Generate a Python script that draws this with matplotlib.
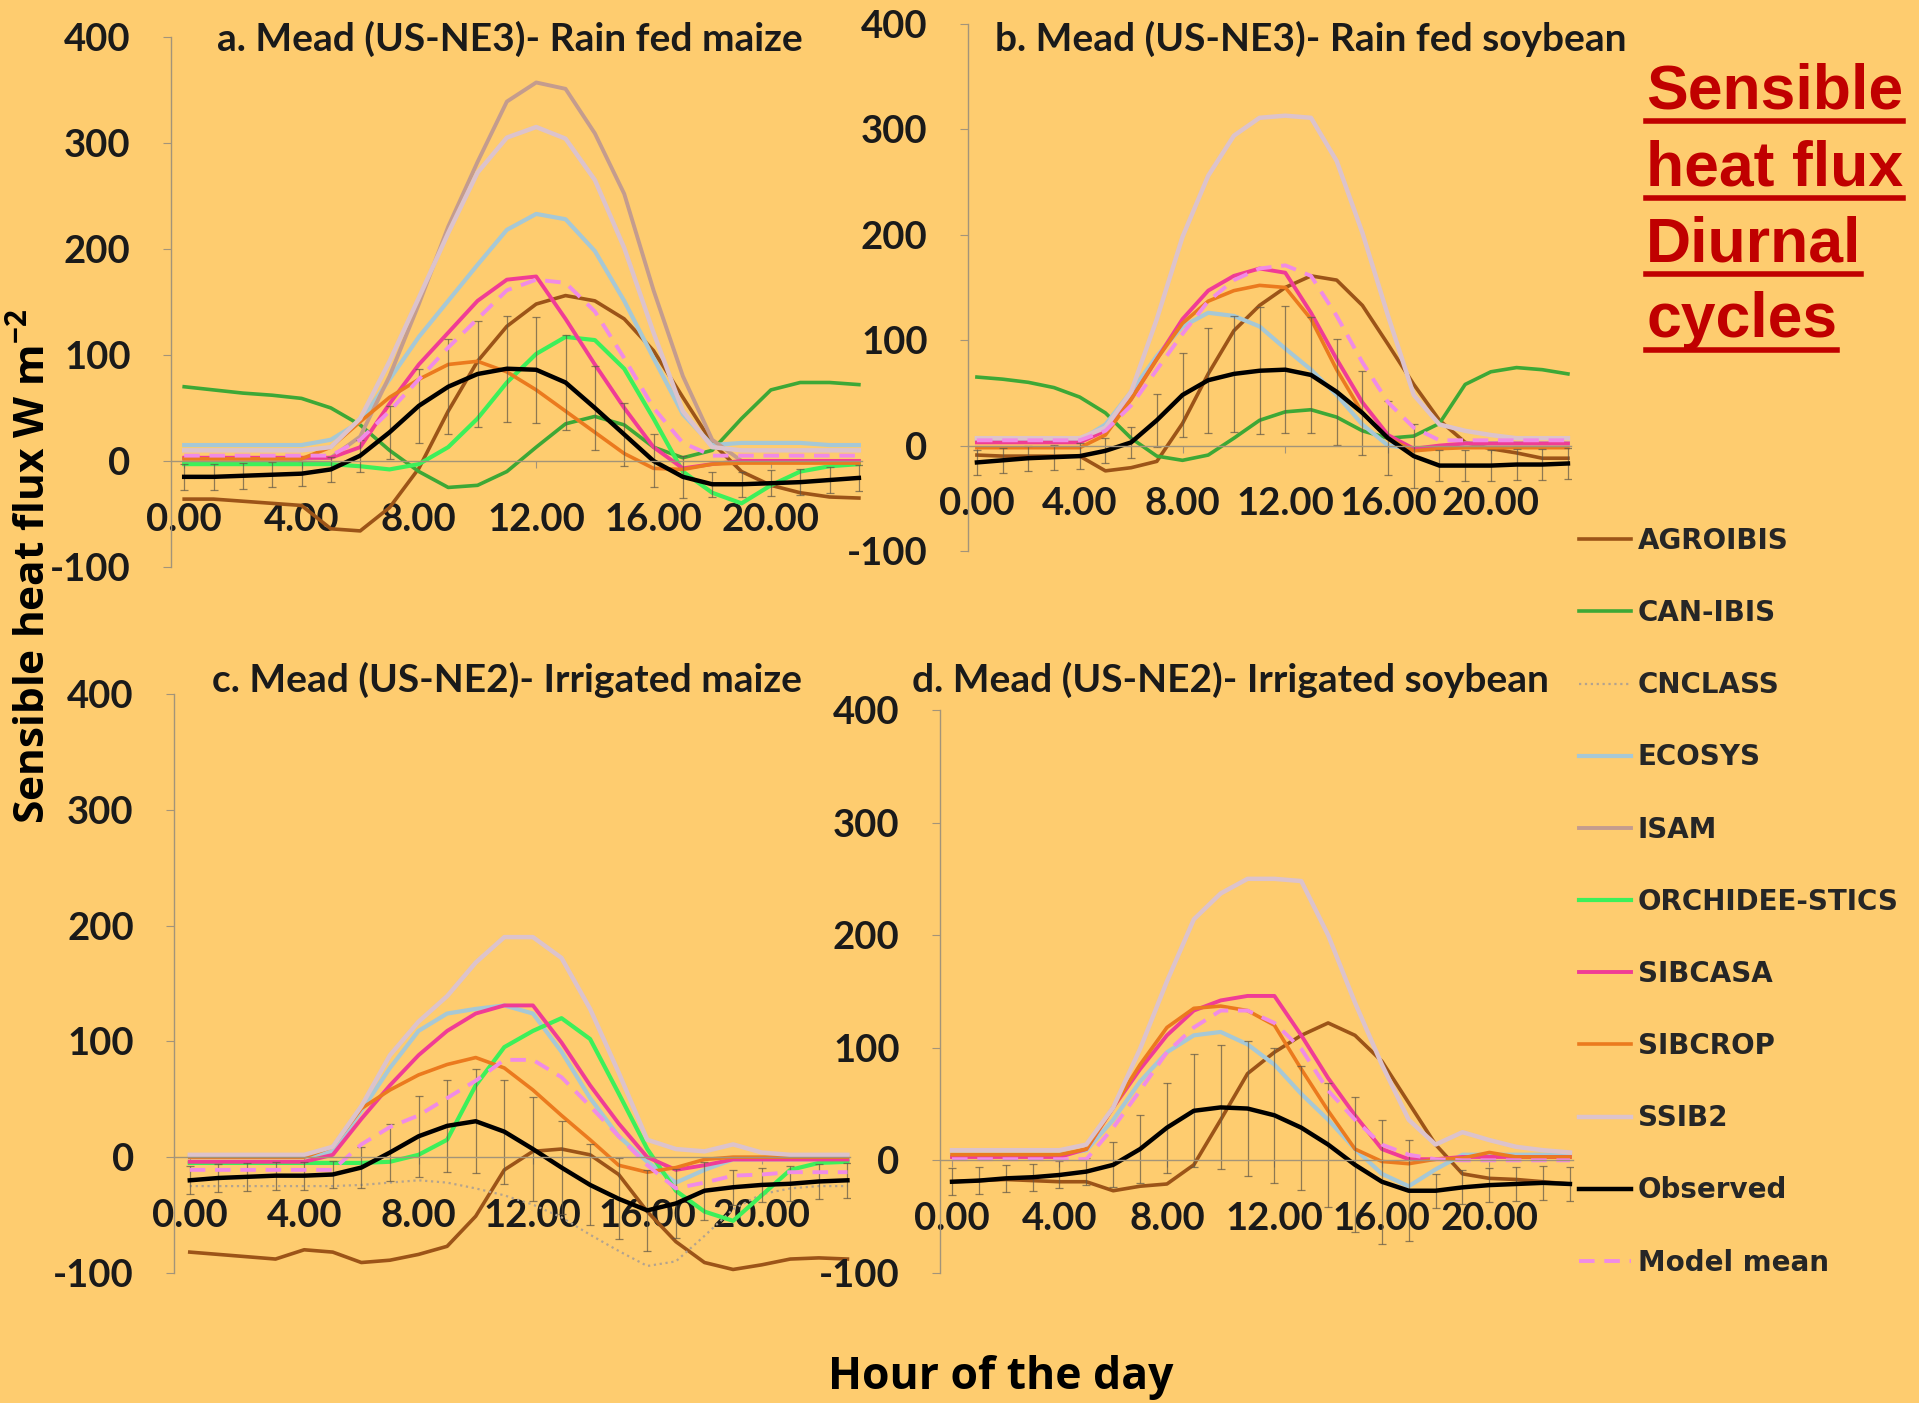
import numpy as np
import matplotlib
matplotlib.use('Agg')
import matplotlib.pyplot as plt
from matplotlib.lines import Line2D

plt.rcParams['font.family'] = ['Lato', 'DejaVu Sans']
plt.rcParams['mathtext.fontset'] = 'custom'
plt.rcParams['mathtext.bf'] = 'Open Sans:bold'
plt.rcParams['mathtext.rm'] = 'Open Sans:bold'

hours = np.arange(24)
hour_ticks = [0, 4, 8, 12, 16, 20]
hour_labels = ['0.00', '4.00', '8.00', '12.00', '16.00', '20.00']
flux_ticks = [-100, 0, 100, 200, 300, 400]

models = ['AGROIBIS', 'CAN-IBIS', 'CNCLASS', 'ECOSYS', 'ISAM', 'ORCHIDEE-STICS',
          'SIBCASA', 'SIBCROP', 'SSIB2', 'Observed', 'Model mean']

# a. Mead (US-NE3) rain fed maize
a_agroibis = [-36, -36, -38, -40, -42, -64, -66, -44, -7, 47, 94, 127, 148, 156, 151, 134, 104, 60, 17, -10, -23, -30, -34, -35]
a_canibis = [70, 67, 64, 62, 59, 50, 34, 10, -10, -25, -23, -10, 13, 35, 42, 34, 13, 3, 10, 40, 67, 74, 74, 72]
a_ecosys = [15, 15, 15, 15, 15, 20, 37, 77, 117, 151, 185, 218, 233, 228, 198, 151, 97, 44, 15, 17, 17, 17, 15, 15]
a_isam = [2, 2, 2, 2, 2, 3, 23, 80, 148, 221, 282, 339, 357, 351, 309, 252, 161, 80, 20, 0, 0, 0, 0, 0]
a_orchidee = [-3, -3, -3, -3, -3, -3, -5, -8, -3, 13, 40, 74, 101, 117, 114, 87, 40, -10, -30, -40, -23, -10, -5, -3]
a_sibcasa = [3, 3, 3, 3, 3, 3, 13, 54, 91, 121, 151, 171, 174, 134, 91, 50, 13, -7, -3, 0, 0, 0, 0, 0]
a_sibcrop = [2, 2, 2, 2, 2, 13, 37, 60, 77, 91, 94, 84, 67, 47, 27, 7, -7, -8, -3, -2, -2, -2, -2, -2]
a_ssib2 = [10, 10, 10, 10, 10, 13, 40, 94, 154, 215, 272, 305, 315, 304, 265, 201, 121, 47, 13, 10, 10, 10, 10, 10]
a_obs = [-15, -15, -14, -13, -12, -8, 5, 27, 52, 70, 82, 87, 86, 74, 50, 25, 0, -15, -22, -22, -21, -20, -18, -16]
a_obs_err = [12, 12, 12, 12, 12, 12, 15, 25, 35, 45, 50, 50, 50, 45, 40, 30, 25, 20, 12, 12, 12, 12, 12, 12]
a_mean = [5, 5, 5, 5, 5, 5, 20, 47, 77, 107, 134, 161, 171, 168, 141, 97, 50, 17, 5, 5, 5, 5, 5, 5]

# b. Mead (US-NE3) rain fed soybean
b_agroibis = [-9, -10, -10, -10, -10, -24, -21, -15, 21, 68, 109, 133, 150, 161, 157, 133, 96, 58, 24, 3, -3, -7, -12, -12]
b_canibis = [65, 63, 60, 55, 46, 31, 7, -10, -14, -9, 7, 24, 32, 34, 27, 14, 7, 9, 21, 58, 70, 74, 72, 68]
b_ecosys = [5, 5, 5, 5, 5, 20, 51, 85, 113, 126, 123, 113, 92, 72, 48, 20, 0, -3, -2, 2, 2, 2, 2, 2]
b_sibcasa = [3, 3, 3, 3, 3, 14, 44, 82, 120, 147, 161, 168, 164, 126, 82, 41, 10, -3, 0, 2, 2, 2, 2, 2]
b_sibcrop = [-2, -2, -2, -2, -2, 10, 44, 82, 116, 137, 147, 152, 150, 120, 72, 31, 7, -5, -3, -2, -2, -2, -2, -2]
b_ssib2 = [7, 7, 7, 7, 7, 17, 51, 120, 198, 256, 294, 311, 313, 311, 270, 202, 123, 48, 20, 14, 10, 7, 7, 7]
b_obs = [-16, -14, -12, -11, -10, -5, 3, 24, 48, 62, 68, 71, 72, 67, 51, 31, 7, -10, -19, -19, -19, -18, -18, -17]
b_obs_err = [12, 12, 12, 12, 12, 12, 15, 25, 40, 50, 55, 60, 60, 55, 50, 40, 35, 30, 15, 15, 15, 15, 15, 15]
b_mean = [5, 5, 5, 5, 5, 14, 38, 72, 106, 137, 157, 168, 171, 161, 123, 79, 41, 17, 5, 5, 5, 5, 5, 5]

# c. Mead (US-NE2) irrigated maize
c_agroibis = [-82, -84, -86, -88, -80, -82, -91, -89, -84, -77, -51, -11, 5, 7, 2, -15, -47, -73, -91, -97, -93, -88, -87, -88]
c_cnclass = [-25, -25, -25, -25, -25, -25, -24, -22, -20, -22, -27, -33, -41, -52, -67, -81, -94, -90, -68, -45, -32, -27, -25, -25]
c_ecosys = [0, 0, 0, 0, 0, 5, 40, 77, 109, 124, 128, 131, 124, 91, 51, 18, -4, -22, -11, -2, -2, -2, -2, -2]
c_orchidee = [-5, -5, -5, -5, -5, -5, -5, -4, 2, 15, 62, 95, 109, 120, 102, 55, 7, -29, -47, -55, -33, -11, -5, -4]
c_sibcasa = [-4, -4, -4, -4, -4, 2, 33, 62, 88, 109, 124, 131, 131, 99, 62, 29, 0, -11, -7, -2, -2, -2, -2, -2]
c_sibcrop = [0, 0, 0, 0, 0, 9, 42, 58, 71, 80, 86, 77, 58, 36, 15, -7, -13, -9, -2, 0, 0, 0, 0, 0]
c_ssib2 = [2, 2, 2, 2, 2, 9, 44, 88, 117, 139, 168, 190, 190, 172, 128, 73, 15, 7, 5, 11, 4, 2, 2, 2]
c_obs = [-20, -18, -17, -16, -16, -15, -9, 4, 18, 27, 31, 22, 7, -9, -24, -36, -46, -40, -29, -26, -24, -23, -21, -20]
c_obs_err = [12, 12, 12, 12, 12, 12, 18, 25, 35, 40, 45, 45, 45, 40, 35, 35, 35, 30, 25, 15, 15, 15, 15, 15]
c_mean = [-11, -11, -11, -11, -11, -11, 11, 26, 36, 51, 66, 84, 84, 69, 44, 18, -7, -27, -22, -16, -15, -13, -13, -13]

# d. Mead (US-NE2) irrigated soybean
d_agroibis = [-19, -18, -17, -18, -19, -19, -27, -23, -21, -4, 36, 77, 96, 111, 122, 111, 88, 51, 14, -12, -16, -17, -19, -21]
d_ecosys = [5, 5, 5, 5, 5, 9, 36, 70, 96, 111, 114, 103, 85, 59, 36, 10, -12, -23, -8, 5, 5, 5, 5, 5]
d_sibcasa = [3, 3, 3, 3, 3, 10, 47, 81, 111, 133, 142, 146, 146, 111, 73, 40, 10, 1, 1, 3, 3, 3, 3, 3]
d_sibcrop = [5, 5, 5, 5, 5, 10, 47, 85, 118, 135, 137, 133, 120, 81, 44, 10, -1, -3, 1, 2, 7, 3, 3, 3]
d_ssib2 = [9, 9, 9, 9, 9, 14, 47, 99, 159, 214, 237, 250, 250, 248, 200, 140, 85, 36, 14, 25, 18, 12, 9, 7]
d_obs = [-19, -18, -16, -15, -13, -10, -4, 10, 29, 44, 47, 46, 40, 29, 14, -4, -19, -27, -27, -24, -22, -21, -20, -21]
d_obs_err = [12, 12, 12, 12, 12, 12, 20, 30, 40, 50, 55, 60, 60, 55, 55, 60, 55, 45, 15, 15, 15, 15, 15, 15]
d_mean = [1, 1, 1, 1, 1, 1, 29, 62, 96, 118, 133, 133, 122, 99, 62, 36, 14, 5, 1, 0, 0, 0, 0, 0]

titles = ['a. Mead (US-NE3)- Rain fed maize', 'b. Mead (US-NE3)- Rain fed soybean',
          'c. Mead (US-NE2)- Irrigated maize', 'd. Mead (US-NE2)- Irrigated soybean']

panels = [
    {'AGROIBIS': a_agroibis, 'CAN-IBIS': a_canibis, 'ECOSYS': a_ecosys, 'ISAM': a_isam,
     'ORCHIDEE-STICS': a_orchidee, 'SIBCASA': a_sibcasa, 'SIBCROP': a_sibcrop, 'SSIB2': a_ssib2,
     'Observed': a_obs, 'err': a_obs_err, 'Model mean': a_mean},
    {'AGROIBIS': b_agroibis, 'CAN-IBIS': b_canibis, 'ECOSYS': b_ecosys, 'SIBCASA': b_sibcasa,
     'SIBCROP': b_sibcrop, 'SSIB2': b_ssib2, 'Observed': b_obs, 'err': b_obs_err, 'Model mean': b_mean},
    {'AGROIBIS': c_agroibis, 'CNCLASS': c_cnclass, 'ECOSYS': c_ecosys, 'ORCHIDEE-STICS': c_orchidee,
     'SIBCASA': c_sibcasa, 'SIBCROP': c_sibcrop, 'SSIB2': c_ssib2, 'Observed': c_obs, 'err': c_obs_err,
     'Model mean': c_mean},
    {'AGROIBIS': d_agroibis, 'ECOSYS': d_ecosys, 'SIBCASA': d_sibcasa, 'SIBCROP': d_sibcrop,
     'SSIB2': d_ssib2, 'Observed': d_obs, 'err': d_obs_err, 'Model mean': d_mean},
]

styles = {
    'AGROIBIS': dict(color='#9C5418', lw=2.6),
    'CAN-IBIS': dict(color='#3DA836', lw=2.6),
    'CNCLASS': dict(color='#B3A38F', lw=1.6, ls=':'),
    'ECOSYS': dict(color='#A6C8D6', lw=3.0),
    'ISAM': dict(color='#C49C8E', lw=2.8),
    'ORCHIDEE-STICS': dict(color='#3CF05A', lw=3.0),
    'SIBCASA': dict(color='#F03C96', lw=2.8),
    'SIBCROP': dict(color='#EB7A1E', lw=2.6),
    'SSIB2': dict(color='#DCC3CC', lw=3.2),
    'Observed': dict(color='black', lw=3.2),
    'Model mean': dict(color='#F08BE6', lw=2.8, ls=(0, (4, 2.5))),
}

bg = '#FECC6F'
axis_col = '#A39479'
fig = plt.figure(figsize=(19.19, 14.03), dpi=100, facecolor=bg)

boxes = [[0.0891, 0.5959, 0.360, 0.3778], [0.5044, 0.6073, 0.314, 0.3756],
         [0.0907, 0.0927, 0.3524, 0.4127], [0.4898, 0.0927, 0.3297, 0.4013]]
xlefts = [-0.45, -0.35, -0.55, -0.45]
title_pos = [(510, 39), (1311, 39), (507, 680), (1230, 680)]

for i, data in enumerate(panels):
    ax = fig.add_axes(boxes[i])
    ax.set_facecolor('none')
    for m in models[:-2]:
        if m in data:
            ax.plot(hours, data[m], **styles[m])
    ax.errorbar(hours, data['Observed'], yerr=data['err'], fmt='none', ecolor='#5f5646',
                elinewidth=0.9, capsize=3, capthick=0.9, alpha=0.7)
    ax.plot(hours, data['Observed'], **styles['Observed'])
    ax.plot(hours, data['Model mean'], **styles['Model mean'])

    ax.set_xlim(xlefts[i], 23.1)
    ax.set_ylim(-100, 400)
    ax.spines['top'].set_visible(False)
    ax.spines['right'].set_visible(False)
    ax.spines['bottom'].set_position(('data', 0))
    for s in ['left', 'bottom']:
        ax.spines[s].set_color(axis_col)
        ax.spines[s].set_linewidth(1.0)
    ax.set_xticks(hour_ticks)
    ax.set_xticklabels(hour_labels)
    ax.set_yticks(flux_ticks)
    ax.set_yticklabels([str(v) for v in flux_ticks])
    ax.tick_params(axis='x', length=5, color=axis_col, pad=25, labelsize=27.5)
    ax.tick_params(axis='y', length=6, color=axis_col, pad=23, labelsize=27.5)
    for lab in ax.get_xticklabels() + ax.get_yticklabels():
        lab.set_fontweight('bold')
        lab.set_color('#1a1a1a')
    tx, ty = title_pos[i]
    fig.text(tx / 1919, 1 - ty / 1403, titles[i], ha='center', va='center',
             fontsize=28, fontweight='bold', color='#1a1a1a')

fig.text(33 / 1919, 1 - 566 / 1403, r'Sensible heat flux W m$^{\mathbf{-2}}$', rotation=90,
         ha='center', va='center', fontsize=30.5, fontweight='bold', family='Open Sans', color='black')
fig.text(1001 / 1919, 1 - 1377 / 1403, 'Hour of the day', ha='center', va='center',
         fontsize=32, fontweight='bold', family='Open Sans', color='black')

handles = [Line2D([], [], **styles[m]) for m in models]
leg = fig.legend(handles, models, loc='upper left', bbox_to_anchor=(1579 / 1919, 1 - 527 / 1403),
                 frameon=False, borderpad=0, borderaxespad=0, handlelength=1.86,
                 handletextpad=0.25, labelspacing=1.59,
                 prop={'family': 'DejaVu Sans', 'weight': 'bold', 'size': 20})
for t in leg.get_texts():
    t.set_color('#262626')

red = '#C00000'
red_lines = ['Sensible', 'heat flux', 'Diurnal', 'cycles']
red_y = [92, 169, 245, 321]
red_texts = []
for line, y in zip(red_lines, red_y):
    red_texts.append(fig.text(1646 / 1919, 1 - y / 1403, line, ha='left', va='center',
                              fontsize=45, fontweight='bold', family='Liberation Sans', color=red))

fig.canvas.draw()
renderer = fig.canvas.get_renderer()
for t, y in zip(red_texts, red_y):
    bb = t.get_window_extent(renderer)
    uy = 1 - (y + 29) / 1403
    fig.add_artist(Line2D([bb.x0 / 1919, bb.x1 / 1919], [uy, uy], color=red, lw=4,
                          transform=fig.transFigure))

fig.savefig('out.png', dpi=100, facecolor=bg)
